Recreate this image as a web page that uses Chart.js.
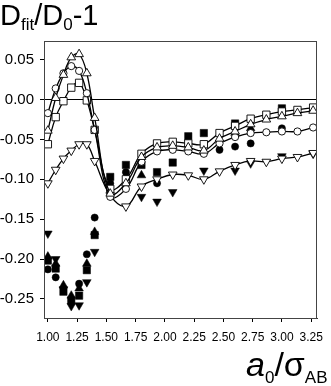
<!DOCTYPE html>
<html>
<head>
<meta charset="utf-8">
<script src="https://cdn.jsdelivr.net/npm/chart.js@4.4.1/dist/chart.umd.min.js"></script>
<style>
  html, body { margin: 0; padding: 0; background: #fff; }
  #wrap { position: relative; width: 331px; height: 386px; overflow: hidden; }
  #chart { position: absolute; left: 0; top: 0; }
  .ttl { position: absolute; font-family: "Liberation Sans", Arial, sans-serif; color: #000; white-space: nowrap; line-height: 30px; }
  .sub { position: relative; }
</style>
</head>
<body>
<div id="wrap">
  <canvas id="chart" width="331" height="386"></canvas>
  <div class="ttl" style="left:0;top:0;font-size:29px;">D<span class="sub" style="font-size:17px;top:5px;">fit</span>/D<span class="sub" style="font-size:17px;top:5px;">0</span>-1</div>
  <div class="ttl" style="left:246px;top:349px;font-size:34px;"><i>a</i><span class="sub" style="font-size:17px;top:7px;">0</span>/σ<span class="sub" style="font-size:17px;top:7px;">AB</span></div>
</div>
<script>
  // a0/sigma_AB positions
  var xVals = [1.0, 1.067, 1.133, 1.2, 1.267, 1.333, 1.4, 1.533, 1.667, 1.8, 1.933,
               2.067, 2.2, 2.333, 2.467, 2.6, 2.733, 2.867, 3.0, 3.133, 3.267];

  // open symbols (with fitted curves)
  var openTriUp   = [-0.039, 0.002, 0.031, 0.053, 0.057, 0.033, -0.023, -0.118, -0.105, -0.072, -0.060,
                     -0.058, -0.060, -0.064, -0.049, -0.040, -0.031, -0.025, -0.021, -0.017, -0.014];
  var openCircle  = [-0.017, 0.014, 0.033, 0.042, 0.036, 0.008, -0.038, -0.122, -0.112, -0.078, -0.065,
                     -0.063, -0.065, -0.068, -0.055, -0.047, -0.042, -0.041, -0.040, -0.040, -0.035];
  var openSquare  = [-0.056, -0.022, -0.002, 0.015, 0.021, -0.001, -0.038, -0.112, -0.100, -0.068, -0.055,
                     -0.053, -0.055, -0.056, -0.042, -0.033, -0.024, -0.019, -0.015, -0.013, -0.010];
  var openTriDown = [-0.105, -0.088, -0.074, -0.064, -0.056, -0.056, -0.077, -0.120, -0.134, -0.109, -0.100,
                     -0.094, -0.095, -0.100, -0.090, -0.082, -0.077, -0.078, -0.074, -0.072, -0.067];

  // filled symbols (null = not visible)
  var fillCircle  = [-0.213, -0.223, null, null, -0.231, -0.194, -0.148, -0.105, -0.091, null, -0.105,
                     null, null, null, -0.063, -0.059, -0.055, null, -0.036, null, null];
  var fillTriUp   = [-0.197, -0.206, -0.233, -0.246, -0.237, -0.206, -0.166, null, null, -0.095, null,
                     null, null, null, null, -0.042, -0.036, null, null, null, null];
  var fillSquare  = [-0.202, -0.212, -0.241, -0.252, -0.246, -0.214, -0.170, -0.097, -0.082, -0.082, -0.091,
                     -0.079, -0.046, -0.042, null, -0.030, null, null, -0.011, null, null];
  var fillTriDown = [-0.168, -0.200, -0.238, -0.259, -0.258, -0.229, -0.191, null, null, -0.122, -0.128,
                     -0.116, null, -0.089, null, -0.089, -0.080, null, -0.071, null, -0.068];

  var yTicks = [-0.25, -0.20, -0.15, -0.10, -0.05, 0.00, 0.05];
  var xTicks = [1.00, 1.25, 1.50, 1.75, 2.00, 2.25, 2.50, 2.75, 3.00, 3.25];

  function pts(ys) {
    var out = [];
    for (var i = 0; i < xVals.length; i++) {
      if (ys[i] !== null) out.push({ x: xVals[i], y: ys[i] });
    }
    return out;
  }

  function openSet(ys, style, radius, rot) {
    return {
      data: pts(ys),
      showLine: true,
      borderColor: "#000",
      borderWidth: 1.3,
      tension: 0.4,
      pointStyle: style,
      pointRadius: radius,
      rotation: rot || 0,
      pointBackgroundColor: "#fff",
      pointBorderColor: "#000",
      pointBorderWidth: 0.9,
    };
  }

  function filledSet(ys, style, radius, rot) {
    return {
      data: pts(ys),
      showLine: false,
      pointStyle: style,
      pointRadius: radius,
      rotation: rot || 0,
      pointBackgroundColor: "#000",
      pointBorderColor: "#000",
      pointBorderWidth: 0.5,
    };
  }

  var frame = {
    id: "frame",
    afterDraw: function (chart) {
      var a = chart.chartArea, ctx = chart.ctx;
      ctx.save();
      ctx.strokeStyle = "#444";
      ctx.lineWidth = 1;
      ctx.strokeRect(a.left + 0.5, a.top + 0.5, a.right - a.left - 1, a.bottom - a.top);
      ctx.restore();
    },
  };

  new Chart(document.getElementById("chart").getContext("2d"), {
    type: "scatter",
    data: {
      datasets: [
        openSet(openTriUp, "triangle", 5),
        openSet(openCircle, "circle", 3.6),
        openSet(openSquare, "rect", 5.2),
        openSet(openTriDown, "triangle", 5, 180),
        filledSet(fillCircle, "circle", 3.6),
        filledSet(fillTriUp, "triangle", 5),
        filledSet(fillSquare, "rect", 5.2),
        filledSet(fillTriDown, "triangle", 5, 180),
      ],
    },
    options: {
      responsive: false,
      animation: false,
      layout: { padding: { left: 0, top: 41, right: 8, bottom: 0 } },
      plugins: { legend: { display: false }, tooltip: { enabled: false } },
      scales: {
        x: {
          type: "linear",
          min: 0.967,
          max: 3.30,
          afterFit: function (s) { s.height = 68; },
          afterBuildTicks: function (s) { s.ticks = xTicks.map(function (v) { return { value: v }; }); },
          border: { color: "#333", width: 1 },
          grid: { drawOnChartArea: false, tickLength: 4, color: "#000" },
          ticks: {
            padding: 8,
            color: "#000",
            maxRotation: 0,
            autoSkip: false,
            font: { family: "'Liberation Sans', Arial, sans-serif", size: 12 },
            callback: function (v) { return Number(v).toFixed(2); },
          },
        },
        y: {
          type: "linear",
          min: -0.274,
          max: 0.0735,
          afterFit: function (s) { s.width = 44; },
          afterBuildTicks: function (s) { s.ticks = yTicks.map(function (v) { return { value: v }; }); },
          border: { color: "#333", width: 1 },
          grid: {
            tickLength: 4,
            tickColor: "#000",
            color: function (c) { return c.tick && Math.abs(c.tick.value) < 1e-9 ? "#000" : "rgba(0,0,0,0)"; },
          },
          ticks: {
            padding: 6,
            color: "#000",
            font: { family: "'Liberation Sans', Arial, sans-serif", size: 15 },
            callback: function (v) { return Number(v).toFixed(2); },
          },
        },
      },
    },
    plugins: [frame],
  });
</script>
</body>
</html>
